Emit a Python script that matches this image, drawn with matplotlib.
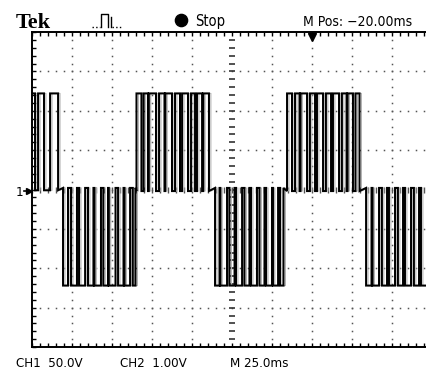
import matplotlib
matplotlib.use("Agg")
import matplotlib.pyplot as plt
from matplotlib.lines import Line2D
import numpy as np

# ---- data (time in ms, voltage in V) ----
level_high = 122.0
level_low = -122.0
half_signs = [1, -1, 1, -1, 1, -1]
half_bases = [-1.0, 2.0, -2.0, 2.0, -2.0, 2.0]
half1 = [(-1.0, 1.9), (3.8, 7.5), (11.3, 16.3)]
half2 = [(19.4, 22.5), (24.4, 28.1), (29.4, 33.2), (35.0, 38.4), (39.0, 43.1),
         (44.6, 47.5), (48.0, 52.2), (53.8, 57.2), (57.8, 61.3), (63.0, 64.7)]
half3 = [(65.3, 68.4), (69.8, 72.5), (73.0, 77.5), (79.4, 82.8), (83.3, 87.5),
         (89.4, 92.5), (93.8, 97.5), (99.4, 101.9), (103.1, 106.3), (107.0, 110.6)]
half4 = [(114.4, 117.2), (117.7, 121.9), (123.4, 126.6), (127.5, 131.3), (132.8, 135.9),
         (136.9, 140.6), (142.2, 145.3), (146.3, 150.0), (150.6, 153.8), (155.0, 157.2)]
half5 = [(159.4, 162.5), (164.4, 167.2), (167.8, 171.9), (173.7, 176.9), (178.1, 181.9),
         (183.7, 186.9), (188.1, 191.9), (193.7, 196.6), (197.2, 200.6), (202.2, 204.7)]
half6 = [(208.8, 212.2), (212.8, 216.9), (218.7, 221.9), (223.1, 226.9), (228.7, 231.9),
         (233.1, 236.9), (238.7, 241.9), (243.1, 246.9), (247.8, 251.3)]
halves = [half1, half2, half3, half4, half5, half6]

top_texts = ["Tek", "Stop", "M Pos: \u221220.00ms"]
bottom_texts = ["CH1  50.0V", "CH2  1.00V", "M 25.0ms"]

# ---- build step trace ----
t, v = [], []
for sign, base, pulses in zip(half_signs, half_bases, halves):
    lev = level_high if sign > 0 else level_low
    for a, b in pulses:
        t += [a, a, b, b]
        v += [base, lev, lev, base]

W, H = 427, 369
fig = plt.figure(figsize=(W / 100, H / 100), dpi=100)
fig.patch.set_facecolor("white")

def fx(x):
    return x / W

def fy(y):
    return 1 - y / H

ax = fig.add_axes([fx(32), fy(347), 400 / W, 315 / H])
ax.set_xlim(0, 250)
ax.set_ylim(-200, 200)
ax.set_facecolor("white")
for s in ["left", "top", "bottom"]:
    ax.spines[s].set_linewidth(1.4)
    ax.spines[s].set_color("black")
ax.spines["right"].set_visible(False)
ax.set_xticks([])
ax.set_yticks([])
ax.set_xticks(np.arange(0, 251, 5), minor=True)
ax.set_yticks(np.arange(-200, 201, 10), minor=True)
ax.tick_params(which="minor", direction="in", length=3, width=1.0,
               top=True, bottom=True, left=True, right=False,
               labelbottom=False, labelleft=False, color="black")

# dotted graticule
gx = np.arange(0, 251, 5)
gy = np.arange(-200, 201, 10)
for xv in [25, 50, 75, 100, 150, 175, 200, 225]:
    ax.plot(np.full_like(gy, xv, dtype=float), gy, ls="none", marker="s",
            ms=1.1, color="#555555", mew=0)
for yv in [-150, -100, -50, 50, 100, 150]:
    ax.plot(gx, np.full_like(gx, yv, dtype=float), ls="none", marker="s",
            ms=1.1, color="#555555", mew=0)
# center cross ticks
ax.plot(np.full_like(gy, 125, dtype=float), gy, ls="none", marker="_",
        ms=4.5, mew=1.2, color="#333333")
ax.plot(gx, np.zeros_like(gx, dtype=float), ls="none", marker="|",
        ms=4, mew=1.0, color="#555555")

# waveform
t = np.array(t)
v = np.array(v)
ax.plot(t + 1.2, v, color="#b4b4b4", lw=0.8)
ax.plot(t, v, color="black", lw=1.45, solid_joinstyle="miter")

# ---- annotations ----
cond = dict(family="DejaVu Sans", stretch="condensed")
fig.text(fx(16), fy(28), top_texts[0], family="Liberation Serif",
         weight="bold", fontsize=16, va="baseline", ha="left")
# trigger glyph
for xs, ys in [([92, 100], [27, 27]), ([101, 101, 108, 108], [27, 14, 14, 27]),
               ([111, 111], [27, 17]), ([112, 122], [27, 27])]:
    ls = ":" if len(xs) == 2 and ys[0] == ys[1] else "-"
    fig.add_artist(Line2D([fx(x) for x in xs], [fy(y) for y in ys],
                          transform=fig.transFigure, color="black",
                          lw=1.0, ls=ls))
fig.add_artist(Line2D([fx(181.5)], [fy(20)], transform=fig.transFigure,
                      marker="o", ms=8.8, color="black", ls="none"))
fig.text(fx(195), fy(26), top_texts[1], fontsize=10.5, va="baseline",
         ha="left", **cond)
fig.text(fx(303), fy(26), top_texts[2], fontsize=10, va="baseline",
         ha="left", **cond)
# trigger position marker
fig.add_artist(Line2D([fx(312)], [fy(36.5)], transform=fig.transFigure,
                      marker="v", ms=6, color="black", ls="none"))
# channel 1 ground marker
fig.text(fx(16), fy(195.5), "1", fontsize=9.5, va="baseline", ha="left",
         **cond)
fig.add_artist(Line2D([fx(24), fx(30)], [fy(191), fy(191)],
                      transform=fig.transFigure, color="black", lw=1.2))
fig.add_artist(Line2D([fx(29)], [fy(191)], transform=fig.transFigure,
                      marker=">", ms=4, color="black", ls="none"))

for x0, txt in zip([16, 120, 230], bottom_texts):
    fig.text(fx(x0), fy(367), txt, fontsize=9.5, va="baseline", ha="left",
             **cond)

fig.savefig("out.png", dpi=100, facecolor="white")
